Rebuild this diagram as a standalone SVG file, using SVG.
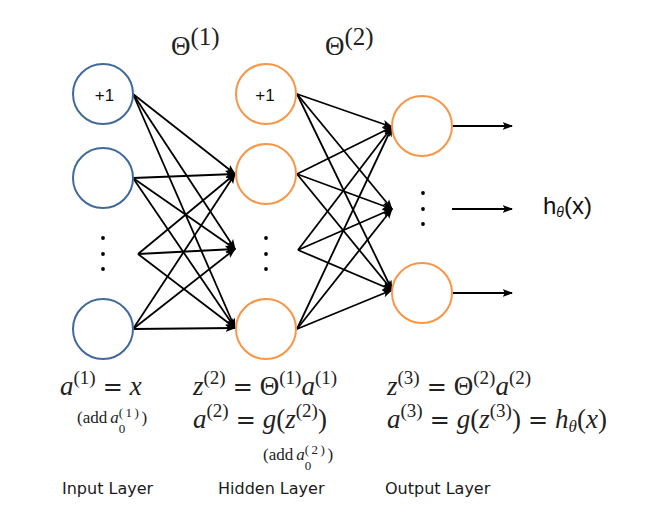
<svg xmlns="http://www.w3.org/2000/svg" width="646" height="516" viewBox="0 0 646 516">
<style>
.bl{fill:none;stroke:#41699B;stroke-width:2}
.or{fill:none;stroke:#F79646;stroke-width:2}
.ln{stroke:#000;stroke-width:1.8;fill:none;marker-end:url(#ah)}
.s{font-family:"Liberation Sans",Arial,sans-serif;fill:#111}
.lab{font-family:"DejaVu Sans",Verdana,sans-serif;font-size:16px;fill:#1a1a1a}
.m{font-family:"Liberation Serif","Times New Roman",serif;fill:#222}
.i{font-style:italic}
.eq{font-family:"DejaVu Serif",serif;font-size:24px}
.sp{font-size:19px}
.ss{font-size:13px;letter-spacing:2.5px}
.dot{fill:#000}
</style>
<defs>
<marker id="ah" markerUnits="userSpaceOnUse" markerWidth="11" markerHeight="9" refX="9.5" refY="4.5" orient="auto">
<path d="M0,0.5 L10.5,4.5 L0,8.5 L2.5,4.5 z" fill="#000"/>
</marker>
</defs>
<g id="connectors">
<line class="ln" x1="133" y1="94" x2="235" y2="174"/>
<line class="ln" x1="133" y1="94" x2="235" y2="249"/>
<line class="ln" x1="133" y1="94" x2="235" y2="328"/>
<line class="ln" x1="133" y1="178" x2="235" y2="174"/>
<line class="ln" x1="133" y1="178" x2="235" y2="249"/>
<line class="ln" x1="133" y1="178" x2="235" y2="328"/>
<line class="ln" x1="138" y1="254" x2="235" y2="174"/>
<line class="ln" x1="138" y1="254" x2="235" y2="249"/>
<line class="ln" x1="138" y1="254" x2="235" y2="328"/>
<line class="ln" x1="133" y1="329" x2="235" y2="174"/>
<line class="ln" x1="133" y1="329" x2="235" y2="249"/>
<line class="ln" x1="133" y1="329" x2="235" y2="328"/>
<line class="ln" x1="297" y1="94" x2="392" y2="127"/>
<line class="ln" x1="297" y1="94" x2="392" y2="209"/>
<line class="ln" x1="297" y1="94" x2="392" y2="290"/>
<line class="ln" x1="297" y1="174" x2="392" y2="127"/>
<line class="ln" x1="297" y1="174" x2="392" y2="209"/>
<line class="ln" x1="297" y1="174" x2="392" y2="290"/>
<line class="ln" x1="298" y1="250" x2="392" y2="127"/>
<line class="ln" x1="298" y1="250" x2="392" y2="209"/>
<line class="ln" x1="298" y1="250" x2="392" y2="290"/>
<line class="ln" x1="297" y1="329" x2="392" y2="127"/>
<line class="ln" x1="297" y1="329" x2="392" y2="209"/>
<line class="ln" x1="297" y1="329" x2="392" y2="290"/>
<line class="ln" x1="453" y1="126" x2="512" y2="126"/>
<line class="ln" x1="452" y1="209" x2="512" y2="209"/>
<line class="ln" x1="453" y1="293" x2="512" y2="293"/>
</g>
<g id="in1"><circle class="bl" cx="103" cy="94" r="30"/><text class="s" x="104.5" y="101" font-size="17" text-anchor="middle">+1</text></g>
<g id="in2"><circle class="bl" cx="103" cy="178" r="30"/></g>
<g id="in-dots"><circle class="dot" cx="103" cy="238" r="1.9"/><circle class="dot" cx="103" cy="254" r="1.9"/><circle class="dot" cx="103" cy="269" r="1.9"/></g>
<g id="in3"><circle class="bl" cx="103" cy="329" r="30"/></g>
<g id="h1"><circle class="or" cx="266" cy="94" r="30"/><text class="s" x="265" y="101" font-size="17" text-anchor="middle">+1</text></g>
<g id="h2"><circle class="or" cx="266" cy="174" r="30"/></g>
<g id="h-dots"><circle class="dot" cx="266" cy="238" r="1.9"/><circle class="dot" cx="266" cy="254" r="1.9"/><circle class="dot" cx="266" cy="269" r="1.9"/></g>
<g id="h3"><circle class="or" cx="266" cy="329" r="30"/></g>
<g id="o1"><circle class="or" cx="422" cy="126" r="30"/></g>
<g id="o-dots"><circle class="dot" cx="423" cy="193" r="1.9"/><circle class="dot" cx="423" cy="209" r="1.9"/><circle class="dot" cx="423" cy="224" r="1.9"/></g>
<g id="o3"><circle class="or" cx="422" cy="293" r="30"/></g>
<g id="output-label"><text class="s" x="543" y="214" font-size="24">h<tspan class="i" font-size="14" dy="3">θ</tspan><tspan dy="-3">(x)</tspan></text></g>
<g id="theta-labels">
<text class="m" x="171" y="55" font-size="27">Θ<tspan font-size="25" dy="-10">(1)</tspan></text>
<text class="m" x="325" y="55" font-size="27">Θ<tspan font-size="25" dy="-10">(2)</tspan></text>
</g>
<g id="formulas" class="m">
<text x="60" y="395" font-size="27"><tspan class="i">a</tspan><tspan class="sp" dy="-11">(1)</tspan><tspan class="eq" dy="11" dx="7">=</tspan><tspan class="i" dx="7">x</tspan></text>
<text x="77" y="423" font-size="17">(add<tspan class="i" dx="3">a</tspan><tspan class="ss" dy="10">0</tspan><tspan class="ss" dx="-9" dy="-16">(1)</tspan><tspan dy="6">)</tspan></text>
<text x="193" y="395" font-size="27"><tspan class="i">z</tspan><tspan class="sp" dy="-11">(2)</tspan><tspan class="eq" dy="11" dx="7">=</tspan><tspan dx="7">Θ</tspan><tspan class="sp" dy="-11">(1)</tspan><tspan class="i" dy="11">a</tspan><tspan class="sp" dy="-11">(1)</tspan></text>
<text x="193" y="428" font-size="27"><tspan class="i">a</tspan><tspan class="sp" dy="-11">(2)</tspan><tspan class="eq" dy="11" dx="7">=</tspan><tspan class="i" dx="7">g</tspan><tspan>(</tspan><tspan class="i">z</tspan><tspan class="sp" dy="-11">(2)</tspan><tspan dy="11">)</tspan></text>
<text x="263" y="460" font-size="17">(add<tspan class="i" dx="3">a</tspan><tspan class="ss" dy="10">0</tspan><tspan class="ss" dx="-9" dy="-16">(2)</tspan><tspan dy="6">)</tspan></text>
<text x="387" y="395" font-size="27"><tspan class="i">z</tspan><tspan class="sp" dy="-11">(3)</tspan><tspan class="eq" dy="11" dx="7">=</tspan><tspan dx="7">Θ</tspan><tspan class="sp" dy="-11">(2)</tspan><tspan class="i" dy="11">a</tspan><tspan class="sp" dy="-11">(2)</tspan></text>
<text x="387" y="428" font-size="27"><tspan class="i">a</tspan><tspan class="sp" dy="-11">(3)</tspan><tspan class="eq" dy="11" dx="7">=</tspan><tspan class="i" dx="7">g</tspan><tspan>(</tspan><tspan class="i">z</tspan><tspan class="sp" dy="-11">(3)</tspan><tspan dy="11">)</tspan><tspan class="eq" dx="7">=</tspan><tspan class="i" dx="7">h</tspan><tspan class="i" font-size="17" dy="4">θ</tspan><tspan dy="-4">(</tspan><tspan class="i">x</tspan><tspan>)</tspan></text>
</g>
<g id="layer-labels">
<text class="lab" x="62" y="494">Input Layer</text>
<text class="lab" x="218" y="494">Hidden Layer</text>
<text class="lab" x="385" y="494">Output Layer</text>
</g>
</svg>
